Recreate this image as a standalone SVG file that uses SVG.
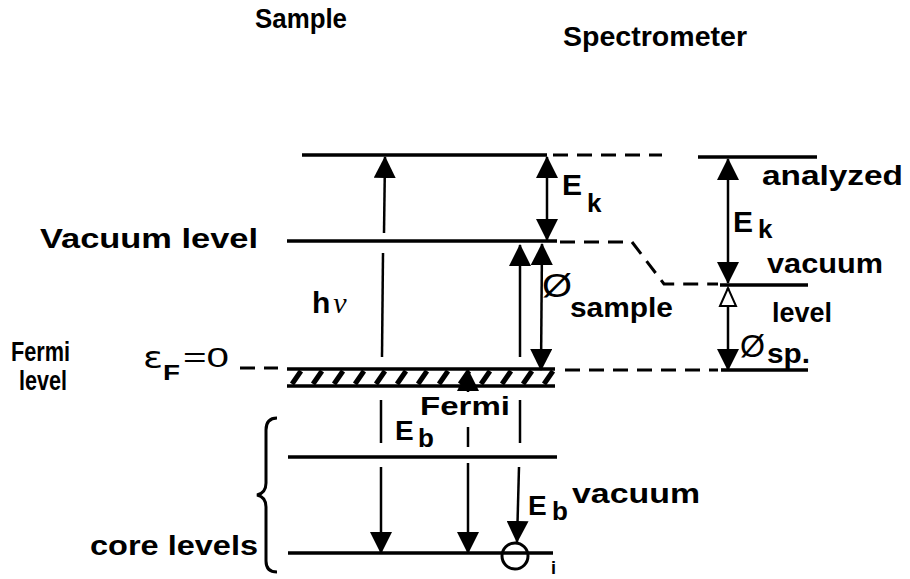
<svg xmlns="http://www.w3.org/2000/svg" width="910" height="579" viewBox="0 0 910 579">
<defs>
<marker id="ah" markerUnits="userSpaceOnUse" markerWidth="22" markerHeight="22" viewBox="0 0 22 22" refX="21" refY="11" orient="auto-start-reverse">
<path d="M0,0 L22,11 L0,22 z" fill="#000"/>
</marker>
<marker id="ao" markerUnits="userSpaceOnUse" markerWidth="22" markerHeight="22" viewBox="0 0 22 22" refX="20" refY="11" orient="auto-start-reverse">
<path d="M2,3 L20,11 L2,19 z" fill="#fff" stroke="#000" stroke-width="2"/>
</marker>
<style>
text{font-family:"Liberation Sans",Arial,sans-serif;font-weight:bold;fill:#000}
.t{font-size:27px}
.sub{font-size:25px}
.lvl{stroke:#000;stroke-width:3.5;fill:none}
.dash{stroke:#000;stroke-width:3;fill:none;stroke-dasharray:15 9}
.ar{stroke:#000;stroke-width:2.5;fill:none}
.hat{stroke:#000;stroke-width:5}
</style>
</defs>

<g id="titles">
<text class="t" x="255" y="28" textLength="92" lengthAdjust="spacingAndGlyphs">Sample</text>
<text class="t" x="563" y="46" textLength="184" lengthAdjust="spacingAndGlyphs">Spectrometer</text>
</g>

<g id="sample-top-level">
<line class="lvl" x1="302" y1="155" x2="547" y2="155"/>
</g>
<g id="vacuum-level">
<line class="lvl" x1="287" y1="241" x2="557" y2="241"/>
<text class="t" x="40" y="248" textLength="218" lengthAdjust="spacingAndGlyphs">Vacuum level</text>
</g>
<g id="fermi-level">
<line class="lvl" x1="287" y1="369" x2="555" y2="369"/>
<line class="lvl" x1="287" y1="386" x2="555" y2="386" stroke-width="4"/>
<g class="hat">
<line x1="292" y1="384" x2="301" y2="371"/><line x1="313" y1="384" x2="322" y2="371"/><line x1="334" y1="384" x2="343" y2="371"/><line x1="355" y1="384" x2="364" y2="371"/><line x1="376" y1="384" x2="385" y2="371"/><line x1="397" y1="384" x2="406" y2="371"/><line x1="418" y1="384" x2="427" y2="371"/><line x1="439" y1="384" x2="448" y2="371"/><line x1="460" y1="384" x2="469" y2="371"/><line x1="481" y1="384" x2="490" y2="371"/><line x1="502" y1="384" x2="511" y2="371"/><line x1="523" y1="384" x2="532" y2="371"/><line x1="544" y1="384" x2="553" y2="371"/>
</g>
<text class="t" x="11" y="361" textLength="59" lengthAdjust="spacingAndGlyphs">Fermi</text>
<text class="t" x="19" y="390" textLength="48" lengthAdjust="spacingAndGlyphs">level</text>
<text x="143" y="368" style="font-family:'DejaVu Sans',sans-serif;font-weight:normal;font-size:30px" textLength="20" lengthAdjust="spacingAndGlyphs">ɛ</text>
<text x="163" y="380" style="font-size:22px" textLength="17" lengthAdjust="spacingAndGlyphs">F</text>
<text x="183" y="367" style="font-size:27px;font-weight:normal" textLength="46" lengthAdjust="spacingAndGlyphs">=0</text>
</g>
<g id="core-level-1">
<line class="lvl" x1="288" y1="457" x2="557" y2="457"/>
</g>
<g id="core-level-2">
<line class="lvl" x1="288" y1="553" x2="553" y2="553"/>
<circle cx="515" cy="556" r="13" fill="none" stroke="#000" stroke-width="3"/>
<text style="font-size:18px" x="551" y="574">i</text>
</g>
<g id="core-levels-label">
<path d="M277,418 Q266,418 266,430 L266,483 Q266,493 257,495 Q266,497 266,507 L266,561 Q266,572 277,572" fill="none" stroke="#000" stroke-width="3"/>
<text class="t" x="90" y="555" textLength="168" lengthAdjust="spacingAndGlyphs">core levels</text>
</g>

<g id="spec-top-level">
<line class="lvl" x1="698" y1="157" x2="817" y2="157"/>
<text class="t" x="762" y="185" textLength="141" lengthAdjust="spacingAndGlyphs">analyzed</text>
</g>
<g id="spec-vacuum-level">
<line class="lvl" x1="720" y1="285" x2="808" y2="285"/>
<text class="t" x="767" y="273" textLength="116" lengthAdjust="spacingAndGlyphs">vacuum</text>
<text class="t" x="772" y="322" textLength="60" lengthAdjust="spacingAndGlyphs">level</text>
</g>
<g id="spec-fermi-level">
<line class="lvl" x1="721" y1="370" x2="808" y2="370"/>
</g>

<g id="connectors">
<line class="dash" x1="553" y1="155" x2="662" y2="155"/>
<path class="dash" d="M560,242 H632 L664,284 H718"/>
<path class="dash" d="M565,370 H718"/>
<path class="dash" d="M240,368 H278"/>

<line class="ar" x1="385" y1="157" x2="384" y2="233" marker-start="url(#ah)"/>
<line class="ar" x1="383" y1="253" x2="382" y2="357"/>
<line class="ar" x1="381" y1="400" x2="381" y2="443"/>
<line class="ar" x1="381" y1="467" x2="381" y2="553" marker-end="url(#ah)"/>

<line class="ar" x1="468" y1="392" x2="468" y2="370" marker-end="url(#ah)"/>
<line class="ar" x1="468" y1="427" x2="468" y2="447"/>
<line class="ar" x1="468" y1="463" x2="468" y2="553" marker-end="url(#ah)"/>

<line class="ar" x1="520" y1="245" x2="520" y2="357" marker-start="url(#ah)"/>
<line class="ar" x1="520" y1="400" x2="520" y2="443"/>
<line class="ar" x1="519" y1="467" x2="517" y2="542" marker-end="url(#ah)"/>

<line class="ar" x1="542" y1="244" x2="541" y2="370" marker-start="url(#ah)" marker-end="url(#ah)"/>
<line class="ar" x1="547" y1="157" x2="547" y2="240" marker-start="url(#ah)" marker-end="url(#ah)"/>

<line class="ar" x1="728" y1="159" x2="728" y2="283" marker-start="url(#ah)" marker-end="url(#ah)"/>
<line class="ar" x1="728" y1="288" x2="728" y2="370" marker-start="url(#ao)" marker-end="url(#ah)"/>
</g>

<g id="labels">
<text x="312" y="313" style="font-size:30px">h<tspan style="font-family:'Liberation Serif',serif;font-style:italic;font-weight:normal" dx="3">ν</tspan></text>
<text x="562" y="195" style="font-size:30px">E</text>
<text x="587" y="212" style="font-size:26px">k</text>
<text x="733" y="232" style="font-size:30px">E</text>
<text x="758" y="238" style="font-size:26px">k</text>
<text x="542" y="297" style="font-size:33px;font-weight:normal" textLength="30" lengthAdjust="spacingAndGlyphs">Ø</text>
<text class="t" x="570" y="317" textLength="103" lengthAdjust="spacingAndGlyphs">sample</text>
<text x="740" y="357" style="font-size:31px;font-weight:normal" textLength="25" lengthAdjust="spacingAndGlyphs">Ø</text>
<text class="t" x="767" y="363" textLength="43" lengthAdjust="spacingAndGlyphs">sp.</text>
<text x="395" y="440" style="font-size:28px">E</text>
<text x="418" y="447" style="font-size:26px">b</text>
<text class="sub" x="420" y="415" textLength="90" lengthAdjust="spacingAndGlyphs">Fermi</text>
<text x="528" y="515" style="font-size:28px">E</text>
<text x="552" y="520" style="font-size:26px">b</text>
<text class="t" x="572" y="503" textLength="128" lengthAdjust="spacingAndGlyphs">vacuum</text>
</g>
</svg>
